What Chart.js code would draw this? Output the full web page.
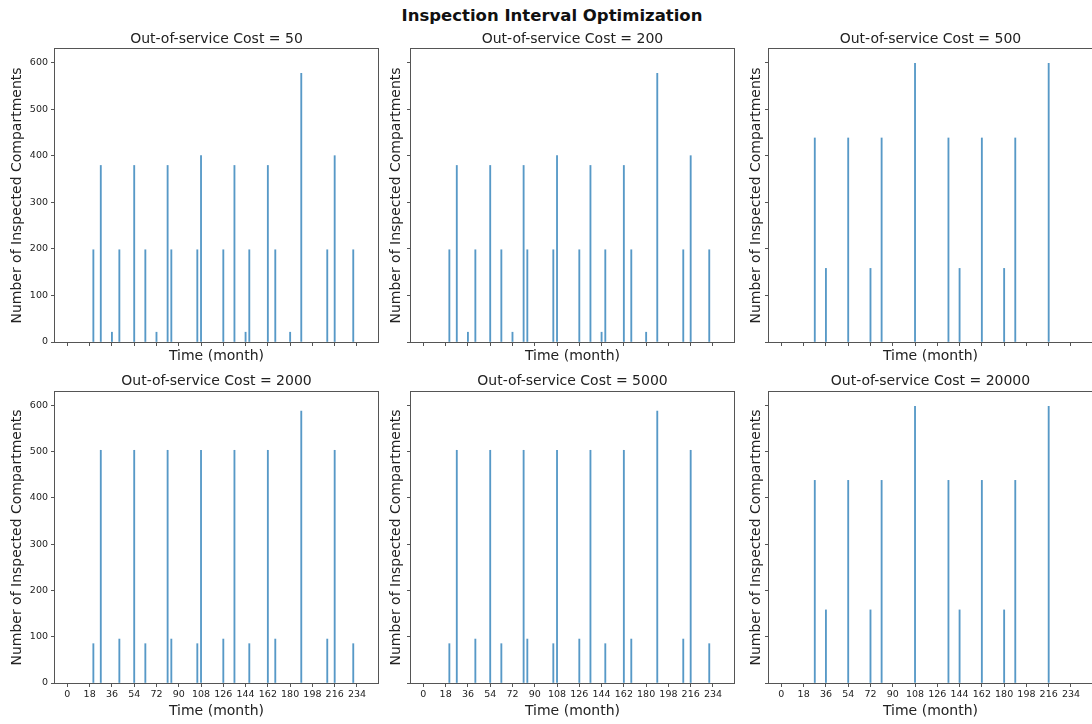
<!DOCTYPE html>
<html>
<head>
<meta charset="utf-8">
<title>Inspection Interval Optimization</title>
<script src="https://cdn.jsdelivr.net/npm/chart.js@4.4.1/dist/chart.umd.min.js"></script>
<style>
  html, body { margin: 0; padding: 0; background: #fff; overflow: hidden; }
  body { width: 1092px; height: 724px; position: relative; font-family: "DejaVu Sans", sans-serif; }
  #suptitle {
    position: absolute; top: 6px; left: 552px; transform: translateX(-50%);
    font-size: 16.5px; font-weight: bold; line-height: 20px; color: #111; white-space: nowrap;
  }
  canvas { position: absolute; }
</style>
</head>
<body>
<div id="suptitle">Inspection Interval Optimization</div>
<canvas id="p0"></canvas>
<canvas id="p1"></canvas>
<canvas id="p2"></canvas>
<canvas id="p3"></canvas>
<canvas id="p4"></canvas>
<canvas id="p5"></canvas>
<script>
const costs = [50, 200, 500, 2000, 5000, 20000];

// inspection months and number of compartments inspected in that month
const months50 = [21, 27, 36, 42, 54, 63, 72, 81, 84, 105, 108, 126, 135, 144, 147, 162, 168, 180, 189, 210, 216, 231];
const counts50 = [198, 379, 21, 198, 379, 198, 21, 379, 198, 198, 400, 198, 379, 21, 198, 379, 198, 21, 577, 198, 400, 198];

const months200 = [21, 27, 36, 42, 54, 63, 72, 81, 84, 105, 108, 126, 135, 144, 147, 162, 168, 180, 189, 210, 216, 231];
const counts200 = [198, 379, 21, 198, 379, 198, 21, 379, 198, 198, 400, 198, 379, 21, 198, 379, 198, 21, 577, 198, 400, 198];

const months500 = [27, 36, 54, 72, 81, 108, 135, 144, 162, 180, 189, 216];
const counts500 = [438, 158, 438, 158, 438, 598, 438, 158, 438, 158, 438, 598];

const months2000 = [21, 27, 42, 54, 63, 81, 84, 105, 108, 126, 135, 147, 162, 168, 189, 210, 216, 231];
const counts2000 = [85, 503, 95, 503, 85, 503, 95, 85, 503, 95, 503, 85, 503, 95, 588, 95, 503, 85];

const months5000 = [21, 27, 42, 54, 63, 81, 84, 105, 108, 126, 135, 147, 162, 168, 189, 210, 216, 231];
const counts5000 = [85, 503, 95, 503, 85, 503, 95, 85, 503, 95, 503, 85, 503, 95, 588, 95, 503, 85];

const months20000 = [27, 36, 54, 72, 81, 108, 135, 144, 162, 180, 189, 216];
const counts20000 = [438, 158, 438, 158, 438, 598, 438, 158, 438, 158, 438, 598];

const xTicks = [0, 18, 36, 54, 72, 90, 108, 126, 144, 162, 180, 198, 216, 234];
const yTicks = [0, 100, 200, 300, 400, 500, 600];

const panels = [
  [months50, counts50],
  [months200, counts200],
  [months500, counts500],
  [months2000, counts2000],
  [months5000, counts5000],
  [months20000, counts20000]
];

// grid of subplots: columns share y, rows share x
const cols = [
  { left: 0,   width: 386, axisW: 55, labelPad: 8.6, padRight: 8, tickLabels: true },
  { left: 386, width: 354, axisW: 25, labelPad: 2.3, padRight: 6, tickLabels: false },
  { left: 740, width: 360, axisW: 29, labelPad: 8.3, padRight: 8, tickLabels: false }
];
const rows = [
  { top: 22,  height: 344, titleTop: 8.6, titleBottom: 1.6, plotH: 293, axisH: 23.1, tickLabels: false },
  { top: 364, height: 357, titleTop: 8.6, titleBottom: 2.6, plotH: 291, axisH: 37.1, tickLabels: true }
];

const INK = "#222";
const SPINE = "#555";
const FONT = "'DejaVu Sans', sans-serif";

// matplotlib-like box around the plotting area
const framePlugin = {
  id: "frame",
  afterDraw(chart) {
    const { ctx, chartArea: a } = chart;
    ctx.save();
    ctx.strokeStyle = SPINE;
    ctx.lineWidth = 1;
    ctx.strokeRect(Math.round(a.left) - 0.5, Math.round(a.top) - 0.5,
      Math.round(a.right - a.left) + 1, Math.round(a.bottom - a.top) + 1);
    ctx.restore();
  }
};

function renderPanel(index) {
  const col = cols[index % 3];
  const row = rows[Math.floor(index / 3)];
  const [months, counts] = panels[index];

  const canvas = document.getElementById("p" + index);
  canvas.width = col.width;
  canvas.height = row.height;
  canvas.style.left = col.left + "px";
  canvas.style.top = row.top + "px";

  const padBottom = row.height - (row.titleTop + 16.8 + row.titleBottom) - row.plotH - row.axisH;

  new Chart(canvas.getContext("2d"), {
    type: "bar",
    data: {
      datasets: [{
        data: months.map((m, i) => ({ x: m, y: counts[i] })),
        backgroundColor: "rgba(31, 119, 180, 0.75)",
        borderWidth: 0,
        barThickness: 1.2
      }]
    },
    options: {
      responsive: false,
      animation: false,
      layout: { padding: { left: 0, top: 0, right: col.padRight, bottom: padBottom } },
      plugins: {
        legend: { display: false },
        tooltip: { enabled: false },
        title: {
          display: true,
          text: "Out-of-service Cost = " + costs[index],
          fullSize: false,
          color: INK,
          font: { family: FONT, size: 14, weight: "normal", lineHeight: 1.2 },
          padding: { top: row.titleTop, bottom: row.titleBottom }
        }
      },
      scales: {
        x: {
          type: "linear",
          min: -10,
          max: 251,
          offset: false,
          afterBuildTicks: s => { s.ticks = xTicks.map(v => ({ value: v })); },
          afterFit: s => { s.height = row.axisH; },
          grid: { offset: false, drawOnChartArea: false, color: SPINE, tickLength: 4 },
          border: { display: false },
          ticks: {
            display: row.tickLabels,
            color: INK,
            padding: 2,
            maxRotation: 0,
            autoSkip: false,
            font: { family: FONT, size: 9.5 }
          },
          title: {
            display: true,
            text: "Time (month)",
            color: INK,
            font: { family: FONT, size: 14, lineHeight: 1.2 },
            padding: { top: 0, bottom: 0 }
          }
        },
        y: {
          min: 0,
          max: 629,
          afterBuildTicks: s => { s.ticks = yTicks.map(v => ({ value: v })); },
          afterFit: s => { s.width = col.axisW; },
          grid: { drawOnChartArea: false, color: SPINE, tickLength: 4 },
          border: { display: false },
          ticks: {
            display: col.tickLabels,
            color: INK,
            padding: 3,
            font: { family: FONT, size: 9.5 }
          },
          title: {
            display: true,
            text: "Number of Inspected Compartments",
            color: INK,
            font: { family: FONT, size: 14, lineHeight: 1.2 },
            padding: { top: col.labelPad, bottom: 0 }
          }
        }
      }
    },
    plugins: [framePlugin]
  });
}

document.addEventListener("DOMContentLoaded", () => {
  panels.forEach((_, i) => renderPanel(i));
});
</script>
</body>
</html>
